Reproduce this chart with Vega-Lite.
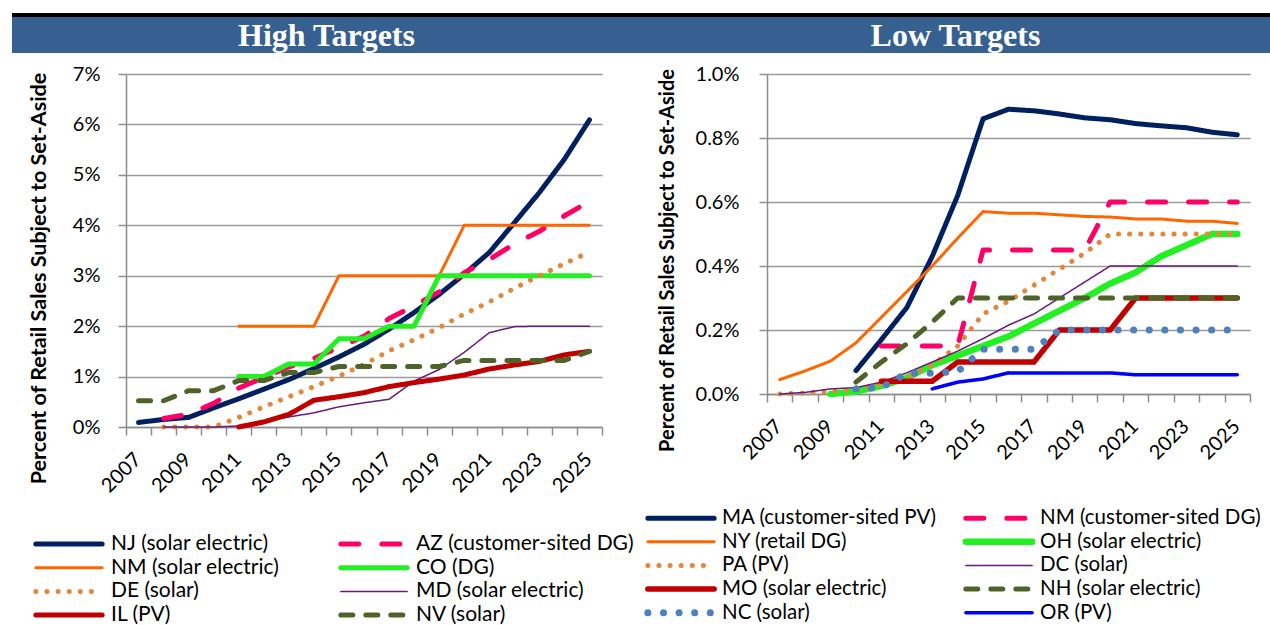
{
  "$schema": "https://vega.github.io/schema/vega-lite/v6.json",
  "padding": {"left": 12, "top": 13, "right": 0, "bottom": 0},
  "background": "white",
  "spacing": 11,
  "resolve": {"scale": {"color": "independent", "strokeDash": "independent", "strokeWidth": "independent"}, "legend": {"color": "independent", "strokeDash": "independent", "strokeWidth": "independent"}},
  "config": {
    "font": "Lato",
    "view": {"stroke": null},
    "axis": {
      "labelFont": "Lato", "labelFontSize": 20, "labelColor": "black",
      "titleFont": "Lato", "titleFontSize": 21.5, "titleFontWeight": "bold", "titleColor": "black",
      "domainColor": "#8c8c8c", "domainWidth": 1.5, "tickColor": "#8c8c8c", "tickWidth": 1.5, "tickSize": 8,
      "gridColor": "#9a9a9a", "gridWidth": 1.5
    },
    "legend": {
      "orient": "none", "direction": "vertical", "columns": 2, "symbolType": "stroke", "symbolSize": 4400,
      "labelFont": "Lato", "labelFontSize": 21, "labelColor": "black", "labelOffset": 6, "labelLimit": 400,
      "clipHeight": 18, "rowPadding": 2.7, "padding": 0, "title": null
    }
  },
  "datasets": {
    "high": [
      {"s":"NJ (solar electric)","y":2007,"v":0.09},{"s":"NJ (solar electric)","y":2008,"v":0.15},{"s":"NJ (solar electric)","y":2009,"v":0.19},{"s":"NJ (solar electric)","y":2010,"v":0.38},{"s":"NJ (solar electric)","y":2011,"v":0.56},{"s":"NJ (solar electric)","y":2012,"v":0.75},{"s":"NJ (solar electric)","y":2013,"v":0.94},{"s":"NJ (solar electric)","y":2014,"v":1.16},{"s":"NJ (solar electric)","y":2015,"v":1.39},{"s":"NJ (solar electric)","y":2016,"v":1.64},{"s":"NJ (solar electric)","y":2017,"v":1.94},{"s":"NJ (solar electric)","y":2018,"v":2.27},{"s":"NJ (solar electric)","y":2019,"v":2.63},{"s":"NJ (solar electric)","y":2020,"v":3.03},{"s":"NJ (solar electric)","y":2021,"v":3.46},{"s":"NJ (solar electric)","y":2022,"v":4.05},{"s":"NJ (solar electric)","y":2023,"v":4.65},{"s":"NJ (solar electric)","y":2024,"v":5.31},{"s":"NJ (solar electric)","y":2025,"v":6.09},
      {"s":"AZ (customer-sited DG)","y":2008,"v":0.17},{"s":"AZ (customer-sited DG)","y":2009,"v":0.25},{"s":"AZ (customer-sited DG)","y":2010,"v":0.47},{"s":"AZ (customer-sited DG)","y":2011,"v":0.77},{"s":"AZ (customer-sited DG)","y":2012,"v":0.98},{"s":"AZ (customer-sited DG)","y":2013,"v":1.19},{"s":"AZ (customer-sited DG)","y":2014,"v":1.36},{"s":"AZ (customer-sited DG)","y":2015,"v":1.58},{"s":"AZ (customer-sited DG)","y":2016,"v":1.8},{"s":"AZ (customer-sited DG)","y":2017,"v":2.15},{"s":"AZ (customer-sited DG)","y":2018,"v":2.4},{"s":"AZ (customer-sited DG)","y":2019,"v":2.68},{"s":"AZ (customer-sited DG)","y":2020,"v":3.06},{"s":"AZ (customer-sited DG)","y":2021,"v":3.32},{"s":"AZ (customer-sited DG)","y":2022,"v":3.63},{"s":"AZ (customer-sited DG)","y":2023,"v":3.88},{"s":"AZ (customer-sited DG)","y":2024,"v":4.19},{"s":"AZ (customer-sited DG)","y":2025,"v":4.47},
      {"s":"NM (solar electric)","y":2011,"v":2},{"s":"NM (solar electric)","y":2012,"v":2},{"s":"NM (solar electric)","y":2013,"v":2},{"s":"NM (solar electric)","y":2014,"v":2},{"s":"NM (solar electric)","y":2015,"v":3},{"s":"NM (solar electric)","y":2016,"v":3},{"s":"NM (solar electric)","y":2017,"v":3},{"s":"NM (solar electric)","y":2018,"v":3},{"s":"NM (solar electric)","y":2019,"v":3},{"s":"NM (solar electric)","y":2020,"v":4},{"s":"NM (solar electric)","y":2021,"v":4},{"s":"NM (solar electric)","y":2022,"v":4},{"s":"NM (solar electric)","y":2023,"v":4},{"s":"NM (solar electric)","y":2024,"v":4},{"s":"NM (solar electric)","y":2025,"v":4},
      {"s":"CO (DG)","y":2011,"v":1},{"s":"CO (DG)","y":2012,"v":1},{"s":"CO (DG)","y":2013,"v":1.25},{"s":"CO (DG)","y":2014,"v":1.25},{"s":"CO (DG)","y":2015,"v":1.75},{"s":"CO (DG)","y":2016,"v":1.75},{"s":"CO (DG)","y":2017,"v":2},{"s":"CO (DG)","y":2018,"v":2},{"s":"CO (DG)","y":2019,"v":3},{"s":"CO (DG)","y":2020,"v":3},{"s":"CO (DG)","y":2021,"v":3},{"s":"CO (DG)","y":2022,"v":3},{"s":"CO (DG)","y":2023,"v":3},{"s":"CO (DG)","y":2024,"v":3},{"s":"CO (DG)","y":2025,"v":3},
      {"s":"DE (solar)","y":2008,"v":0},{"s":"DE (solar)","y":2009,"v":0},{"s":"DE (solar)","y":2010,"v":0},{"s":"DE (solar)","y":2011,"v":0.19},{"s":"DE (solar)","y":2012,"v":0.4},{"s":"DE (solar)","y":2013,"v":0.6},{"s":"DE (solar)","y":2014,"v":0.8},{"s":"DE (solar)","y":2015,"v":1.01},{"s":"DE (solar)","y":2016,"v":1.24},{"s":"DE (solar)","y":2017,"v":1.51},{"s":"DE (solar)","y":2018,"v":1.73},{"s":"DE (solar)","y":2019,"v":1.97},{"s":"DE (solar)","y":2020,"v":2.24},{"s":"DE (solar)","y":2021,"v":2.48},{"s":"DE (solar)","y":2022,"v":2.75},{"s":"DE (solar)","y":2023,"v":3.0},{"s":"DE (solar)","y":2024,"v":3.24},{"s":"DE (solar)","y":2025,"v":3.47},
      {"s":"MD (solar electric)","y":2008,"v":0},{"s":"MD (solar electric)","y":2009,"v":0},{"s":"MD (solar electric)","y":2010,"v":0},{"s":"MD (solar electric)","y":2011,"v":0.02},{"s":"MD (solar electric)","y":2012,"v":0.1},{"s":"MD (solar electric)","y":2013,"v":0.2},{"s":"MD (solar electric)","y":2014,"v":0.28},{"s":"MD (solar electric)","y":2015,"v":0.4},{"s":"MD (solar electric)","y":2016,"v":0.48},{"s":"MD (solar electric)","y":2017,"v":0.55},{"s":"MD (solar electric)","y":2018,"v":0.91},{"s":"MD (solar electric)","y":2019,"v":1.14},{"s":"MD (solar electric)","y":2020,"v":1.48},{"s":"MD (solar electric)","y":2021,"v":1.87},{"s":"MD (solar electric)","y":2022,"v":1.99},{"s":"MD (solar electric)","y":2023,"v":2},{"s":"MD (solar electric)","y":2024,"v":2},{"s":"MD (solar electric)","y":2025,"v":2},
      {"s":"IL (PV)","y":2011,"v":0},{"s":"IL (PV)","y":2012,"v":0.1},{"s":"IL (PV)","y":2013,"v":0.25},{"s":"IL (PV)","y":2014,"v":0.53},{"s":"IL (PV)","y":2015,"v":0.6},{"s":"IL (PV)","y":2016,"v":0.68},{"s":"IL (PV)","y":2017,"v":0.8},{"s":"IL (PV)","y":2018,"v":0.88},{"s":"IL (PV)","y":2019,"v":0.95},{"s":"IL (PV)","y":2020,"v":1.03},{"s":"IL (PV)","y":2021,"v":1.15},{"s":"IL (PV)","y":2022,"v":1.23},{"s":"IL (PV)","y":2023,"v":1.3},{"s":"IL (PV)","y":2024,"v":1.43},{"s":"IL (PV)","y":2025,"v":1.5},
      {"s":"NV (solar)","y":2007,"v":0.52},{"s":"NV (solar)","y":2008,"v":0.52},{"s":"NV (solar)","y":2009,"v":0.72},{"s":"NV (solar)","y":2010,"v":0.72},{"s":"NV (solar)","y":2011,"v":0.92},{"s":"NV (solar)","y":2012,"v":0.92},{"s":"NV (solar)","y":2013,"v":1.08},{"s":"NV (solar)","y":2014,"v":1.08},{"s":"NV (solar)","y":2015,"v":1.2},{"s":"NV (solar)","y":2016,"v":1.2},{"s":"NV (solar)","y":2017,"v":1.2},{"s":"NV (solar)","y":2018,"v":1.2},{"s":"NV (solar)","y":2019,"v":1.2},{"s":"NV (solar)","y":2020,"v":1.32},{"s":"NV (solar)","y":2021,"v":1.32},{"s":"NV (solar)","y":2022,"v":1.32},{"s":"NV (solar)","y":2023,"v":1.32},{"s":"NV (solar)","y":2024,"v":1.32},{"s":"NV (solar)","y":2025,"v":1.5}
    ],
    "low": [
      {"s":"MA (customer-sited PV)","y":2010,"v":0.073},{"s":"MA (customer-sited PV)","y":2011,"v":0.17},{"s":"MA (customer-sited PV)","y":2012,"v":0.27},{"s":"MA (customer-sited PV)","y":2013,"v":0.43},{"s":"MA (customer-sited PV)","y":2014,"v":0.62},{"s":"MA (customer-sited PV)","y":2015,"v":0.86},{"s":"MA (customer-sited PV)","y":2016,"v":0.89},{"s":"MA (customer-sited PV)","y":2017,"v":0.885},{"s":"MA (customer-sited PV)","y":2018,"v":0.875},{"s":"MA (customer-sited PV)","y":2019,"v":0.863},{"s":"MA (customer-sited PV)","y":2020,"v":0.857},{"s":"MA (customer-sited PV)","y":2021,"v":0.845},{"s":"MA (customer-sited PV)","y":2022,"v":0.838},{"s":"MA (customer-sited PV)","y":2023,"v":0.832},{"s":"MA (customer-sited PV)","y":2024,"v":0.818},{"s":"MA (customer-sited PV)","y":2025,"v":0.81},
      {"s":"NM (customer-sited DG)","y":2011,"v":0.15},{"s":"NM (customer-sited DG)","y":2012,"v":0.15},{"s":"NM (customer-sited DG)","y":2013,"v":0.15},{"s":"NM (customer-sited DG)","y":2014,"v":0.15},{"s":"NM (customer-sited DG)","y":2015,"v":0.45},{"s":"NM (customer-sited DG)","y":2016,"v":0.45},{"s":"NM (customer-sited DG)","y":2017,"v":0.45},{"s":"NM (customer-sited DG)","y":2018,"v":0.45},{"s":"NM (customer-sited DG)","y":2019,"v":0.45},{"s":"NM (customer-sited DG)","y":2020,"v":0.6},{"s":"NM (customer-sited DG)","y":2021,"v":0.6},{"s":"NM (customer-sited DG)","y":2022,"v":0.6},{"s":"NM (customer-sited DG)","y":2023,"v":0.6},{"s":"NM (customer-sited DG)","y":2024,"v":0.6},{"s":"NM (customer-sited DG)","y":2025,"v":0.6},
      {"s":"NY (retail DG)","y":2007,"v":0.045},{"s":"NY (retail DG)","y":2008,"v":0.072},{"s":"NY (retail DG)","y":2009,"v":0.103},{"s":"NY (retail DG)","y":2010,"v":0.16},{"s":"NY (retail DG)","y":2011,"v":0.24},{"s":"NY (retail DG)","y":2012,"v":0.32},{"s":"NY (retail DG)","y":2013,"v":0.4},{"s":"NY (retail DG)","y":2014,"v":0.487},{"s":"NY (retail DG)","y":2015,"v":0.57},{"s":"NY (retail DG)","y":2016,"v":0.565},{"s":"NY (retail DG)","y":2017,"v":0.565},{"s":"NY (retail DG)","y":2018,"v":0.56},{"s":"NY (retail DG)","y":2019,"v":0.555},{"s":"NY (retail DG)","y":2020,"v":0.553},{"s":"NY (retail DG)","y":2021,"v":0.547},{"s":"NY (retail DG)","y":2022,"v":0.547},{"s":"NY (retail DG)","y":2023,"v":0.54},{"s":"NY (retail DG)","y":2024,"v":0.54},{"s":"NY (retail DG)","y":2025,"v":0.533},
      {"s":"OH (solar electric)","y":2009,"v":0},{"s":"OH (solar electric)","y":2010,"v":0.008},{"s":"OH (solar electric)","y":2011,"v":0.025},{"s":"OH (solar electric)","y":2012,"v":0.05},{"s":"OH (solar electric)","y":2013,"v":0.09},{"s":"OH (solar electric)","y":2014,"v":0.12},{"s":"OH (solar electric)","y":2015,"v":0.15},{"s":"OH (solar electric)","y":2016,"v":0.18},{"s":"OH (solar electric)","y":2017,"v":0.22},{"s":"OH (solar electric)","y":2018,"v":0.26},{"s":"OH (solar electric)","y":2019,"v":0.3},{"s":"OH (solar electric)","y":2020,"v":0.345},{"s":"OH (solar electric)","y":2021,"v":0.38},{"s":"OH (solar electric)","y":2022,"v":0.43},{"s":"OH (solar electric)","y":2023,"v":0.465},{"s":"OH (solar electric)","y":2024,"v":0.5},{"s":"OH (solar electric)","y":2025,"v":0.5},
      {"s":"PA (PV)","y":2007,"v":0},{"s":"PA (PV)","y":2008,"v":0.003},{"s":"PA (PV)","y":2009,"v":0.008},{"s":"PA (PV)","y":2010,"v":0.013},{"s":"PA (PV)","y":2011,"v":0.03},{"s":"PA (PV)","y":2012,"v":0.05},{"s":"PA (PV)","y":2013,"v":0.09},{"s":"PA (PV)","y":2014,"v":0.15},{"s":"PA (PV)","y":2015,"v":0.25},{"s":"PA (PV)","y":2016,"v":0.29},{"s":"PA (PV)","y":2017,"v":0.34},{"s":"PA (PV)","y":2018,"v":0.39},{"s":"PA (PV)","y":2019,"v":0.44},{"s":"PA (PV)","y":2020,"v":0.5},{"s":"PA (PV)","y":2021,"v":0.5},{"s":"PA (PV)","y":2022,"v":0.5},{"s":"PA (PV)","y":2023,"v":0.5},{"s":"PA (PV)","y":2024,"v":0.5},{"s":"PA (PV)","y":2025,"v":0.5},
      {"s":"DC (solar)","y":2007,"v":0},{"s":"DC (solar)","y":2008,"v":0.005},{"s":"DC (solar)","y":2009,"v":0.016},{"s":"DC (solar)","y":2010,"v":0.02},{"s":"DC (solar)","y":2011,"v":0.037},{"s":"DC (solar)","y":2012,"v":0.066},{"s":"DC (solar)","y":2013,"v":0.1},{"s":"DC (solar)","y":2014,"v":0.134},{"s":"DC (solar)","y":2015,"v":0.173},{"s":"DC (solar)","y":2016,"v":0.215},{"s":"DC (solar)","y":2017,"v":0.25},{"s":"DC (solar)","y":2018,"v":0.3},{"s":"DC (solar)","y":2019,"v":0.35},{"s":"DC (solar)","y":2020,"v":0.4},{"s":"DC (solar)","y":2021,"v":0.4},{"s":"DC (solar)","y":2022,"v":0.4},{"s":"DC (solar)","y":2023,"v":0.4},{"s":"DC (solar)","y":2024,"v":0.4},{"s":"DC (solar)","y":2025,"v":0.4},
      {"s":"MO (solar electric)","y":2011,"v":0.04},{"s":"MO (solar electric)","y":2012,"v":0.04},{"s":"MO (solar electric)","y":2013,"v":0.04},{"s":"MO (solar electric)","y":2014,"v":0.1},{"s":"MO (solar electric)","y":2015,"v":0.1},{"s":"MO (solar electric)","y":2016,"v":0.1},{"s":"MO (solar electric)","y":2017,"v":0.1},{"s":"MO (solar electric)","y":2018,"v":0.2},{"s":"MO (solar electric)","y":2019,"v":0.2},{"s":"MO (solar electric)","y":2020,"v":0.2},{"s":"MO (solar electric)","y":2021,"v":0.3},{"s":"MO (solar electric)","y":2022,"v":0.3},{"s":"MO (solar electric)","y":2023,"v":0.3},{"s":"MO (solar electric)","y":2024,"v":0.3},{"s":"MO (solar electric)","y":2025,"v":0.3},
      {"s":"NH (solar electric)","y":2010,"v":0.037},{"s":"NH (solar electric)","y":2011,"v":0.1},{"s":"NH (solar electric)","y":2012,"v":0.157},{"s":"NH (solar electric)","y":2013,"v":0.225},{"s":"NH (solar electric)","y":2014,"v":0.3},{"s":"NH (solar electric)","y":2015,"v":0.3},{"s":"NH (solar electric)","y":2016,"v":0.3},{"s":"NH (solar electric)","y":2017,"v":0.3},{"s":"NH (solar electric)","y":2018,"v":0.3},{"s":"NH (solar electric)","y":2019,"v":0.3},{"s":"NH (solar electric)","y":2020,"v":0.3},{"s":"NH (solar electric)","y":2021,"v":0.3},{"s":"NH (solar electric)","y":2022,"v":0.3},{"s":"NH (solar electric)","y":2023,"v":0.3},{"s":"NH (solar electric)","y":2024,"v":0.3},{"s":"NH (solar electric)","y":2025,"v":0.3},
      {"s":"NC (solar)","y":2010,"v":0.016},{"s":"NC (solar)","y":2011,"v":0.02},{"s":"NC (solar)","y":2012,"v":0.065},{"s":"NC (solar)","y":2013,"v":0.065},{"s":"NC (solar)","y":2014,"v":0.07},{"s":"NC (solar)","y":2015,"v":0.14},{"s":"NC (solar)","y":2016,"v":0.14},{"s":"NC (solar)","y":2017,"v":0.14},{"s":"NC (solar)","y":2018,"v":0.2},{"s":"NC (solar)","y":2019,"v":0.2},{"s":"NC (solar)","y":2020,"v":0.2},{"s":"NC (solar)","y":2021,"v":0.2},{"s":"NC (solar)","y":2022,"v":0.2},{"s":"NC (solar)","y":2023,"v":0.2},{"s":"NC (solar)","y":2024,"v":0.2},{"s":"NC (solar)","y":2025,"v":0.2},
      {"s":"OR (PV)","y":2013,"v":0.016},{"s":"OR (PV)","y":2014,"v":0.037},{"s":"OR (PV)","y":2015,"v":0.047},{"s":"OR (PV)","y":2016,"v":0.066},{"s":"OR (PV)","y":2017,"v":0.066},{"s":"OR (PV)","y":2018,"v":0.066},{"s":"OR (PV)","y":2019,"v":0.066},{"s":"OR (PV)","y":2020,"v":0.066},{"s":"OR (PV)","y":2021,"v":0.06},{"s":"OR (PV)","y":2022,"v":0.06},{"s":"OR (PV)","y":2023,"v":0.06},{"s":"OR (PV)","y":2024,"v":0.06},{"s":"OR (PV)","y":2025,"v":0.06}
    ]
  },
  "vconcat": [
    {
      "spacing": 0,
      "vconcat": [
        {
          "width": 1258, "height": 4,
          "view": {"fill": "black", "stroke": null},
          "data": {"values": [{"t": ""}]},
          "mark": {"type": "text", "fontSize": 0},
          "encoding": {"text": {"field": "t"}}
        },
        {
          "width": 1258, "height": 36,
          "view": {"fill": "#36608F", "stroke": null},
          "data": {"values": [{"t": "High Targets"}, {"t": "Low Targets"}]},
          "mark": {"type": "text", "font": "Liberation Serif", "fontWeight": "bold", "fontSize": 32, "color": "white", "baseline": "middle", "dy": 1},
          "encoding": {
            "x": {"field": "t", "type": "nominal", "axis": null, "scale": {"padding": 0.5}},
            "text": {"field": "t"}
          }
        }
      ]
    },
    {
      "spacing": 0,
      "resolve": {"scale": {"color": "independent", "strokeDash": "independent", "strokeWidth": "independent"}, "legend": {"color": "independent", "strokeDash": "independent", "strokeWidth": "independent"}},
      "hconcat": [
        {
          "width": 16, "height": 1,
          "data": {"values": [{"t": ""}]},
          "mark": {"type": "text", "fontSize": 0},
          "encoding": {"text": {"field": "t"}}
        },
        {
          "spacing": 10,
          "resolve": {"scale": {"color": "independent", "strokeDash": "independent", "strokeWidth": "independent"}, "legend": {"color": "independent", "strokeDash": "independent", "strokeWidth": "independent"}},
          "hconcat": [
            {
              "width": 476, "height": 353,
              "data": {"name": "high"},
              "mark": {"type": "line", "strokeCap": "round", "strokeJoin": "round"},
              "encoding": {
                "x": {
                  "field": "y", "type": "ordinal", "bandPosition": 0.5,
                  "scale": {"type": "band", "paddingInner": 0, "paddingOuter": 0, "domain": [2007,2008,2009,2010,2011,2012,2013,2014,2015,2016,2017,2018,2019,2020,2021,2022,2023,2024,2025]},
                  "axis": {"title": null, "grid": false, "labelAngle": -45, "tickBand": "extent", "labelPadding": 14, "labelOffset": -8, "labelExpr": "datum.value % 2 == 1 ? datum.label : ''"}
                },
                "y": {
                  "field": "v", "type": "quantitative",
                  "scale": {"domain": [0, 7], "nice": false},
                  "axis": {"title": "Percent of Retail Sales Subject to Set-Aside", "values": [0,1,2,3,4,5,6,7], "labelExpr": "datum.value + '%'", "labelPadding": 18, "titlePadding": 22, "titleY": 204}
                },
                "color": {
                  "field": "s", "type": "nominal",
                  "scale": {"domain": ["NJ (solar electric)","NM (solar electric)","DE (solar)","IL (PV)","AZ (customer-sited DG)","CO (DG)","MD (solar electric)","NV (solar)"],
                            "range": ["#002060","#FF6600","#E2883C","#C00000","#FF0066","#22F022","#6A1B7A","#4F6228"]},
                  "legend": {"legendX": -93, "legendY": 461, "columnPadding": 58, "encode": {"symbols": {"update": {"strokeCap": {"value": "round"}}}}}
                },
                "strokeDash": {
                  "field": "s", "type": "nominal",
                  "scale": {"domain": ["NJ (solar electric)","NM (solar electric)","DE (solar)","IL (PV)","AZ (customer-sited DG)","CO (DG)","MD (solar electric)","NV (solar)"],
                            "range": [[1,0],[1,0],[0.1,11],[1,0],[18,23],[1,0],[1,0],[12,13]]},
                  "legend": {"legendX": -93, "legendY": 461, "columnPadding": 58, "encode": {"symbols": {"update": {"strokeCap": {"value": "round"}}}}}
                },
                "strokeWidth": {
                  "field": "s", "type": "nominal",
                  "scale": {"type": "ordinal", "domain": ["NJ (solar electric)","NM (solar electric)","DE (solar)","IL (PV)","AZ (customer-sited DG)","CO (DG)","MD (solar electric)","NV (solar)"],
                            "range": [5,3,5,5,5,5,1.5,5]},
                  "legend": {"legendX": -93, "legendY": 461, "columnPadding": 58, "encode": {"symbols": {"update": {"strokeCap": {"value": "round"}}}}}
                }
              }
            },
            {
              "width": 483, "height": 320,
              "data": {"name": "low"},
              "mark": {"type": "line", "strokeCap": "round", "strokeJoin": "round"},
              "encoding": {
                "x": {
                  "field": "y", "type": "ordinal", "bandPosition": 0.5,
                  "scale": {"type": "band", "paddingInner": 0, "paddingOuter": 0, "domain": [2007,2008,2009,2010,2011,2012,2013,2014,2015,2016,2017,2018,2019,2020,2021,2022,2023,2024,2025]},
                  "axis": {"title": null, "grid": false, "labelAngle": -45, "tickBand": "extent", "labelPadding": 14, "labelOffset": -8, "labelExpr": "datum.value % 2 == 1 ? datum.label : ''"}
                },
                "y": {
                  "field": "v", "type": "quantitative",
                  "scale": {"domain": [0, 1], "nice": false},
                  "axis": {"title": "Percent of Retail Sales Subject to Set-Aside", "titleFontSize": 20, "values": [0,0.2,0.4,0.6,0.8,1.0], "labelExpr": "format(datum.value, '.1f') + '%'", "labelPadding": 20, "titlePadding": 18, "titleY": 186}
                },
                "color": {
                  "field": "s", "type": "nominal",
                  "scale": {"domain": ["MA (customer-sited PV)","NY (retail DG)","PA (PV)","MO (solar electric)","NC (solar)","NM (customer-sited DG)","OH (solar electric)","DC (solar)","NH (solar electric)","OR (PV)"],
                            "range": ["#002060","#FF6600","#E2883C","#C00000","#4F81BD","#FF0066","#22F022","#6A1B7A","#4F6228","#0000FF"]},
                  "legend": {"legendX": -123, "legendY": 435, "columnPadding": 25, "labelOffset": 4, "labelFontSize": 20.5, "encode": {"symbols": {"update": {"strokeCap": {"value": "round"}}}}}
                },
                "strokeDash": {
                  "field": "s", "type": "nominal",
                  "scale": {"domain": ["MA (customer-sited PV)","NY (retail DG)","PA (PV)","MO (solar electric)","NC (solar)","NM (customer-sited DG)","OH (solar electric)","DC (solar)","NH (solar electric)","OR (PV)"],
                            "range": [[1,0],[1,0],[0.1,11],[1,0],[0.1,15.5],[18,23],[1,0],[1,0],[12,13],[1,0]]},
                  "legend": {"legendX": -123, "legendY": 435, "columnPadding": 25, "labelOffset": 4, "labelFontSize": 20.5, "encode": {"symbols": {"update": {"strokeCap": {"value": "round"}}}}}
                },
                "strokeWidth": {
                  "field": "s", "type": "nominal",
                  "scale": {"type": "ordinal", "domain": ["MA (customer-sited PV)","NY (retail DG)","PA (PV)","MO (solar electric)","NC (solar)","NM (customer-sited DG)","OH (solar electric)","DC (solar)","NH (solar electric)","OR (PV)"],
                            "range": [5,3,5,5.5,7,5,6.5,1.5,5,3.5]},
                  "legend": {"legendX": -123, "legendY": 435, "columnPadding": 25, "labelOffset": 4, "labelFontSize": 20.5, "encode": {"symbols": {"update": {"strokeCap": {"value": "round"}}}}}
                }
              }
            }
          ]
        }
      ]
    }
  ]
}
